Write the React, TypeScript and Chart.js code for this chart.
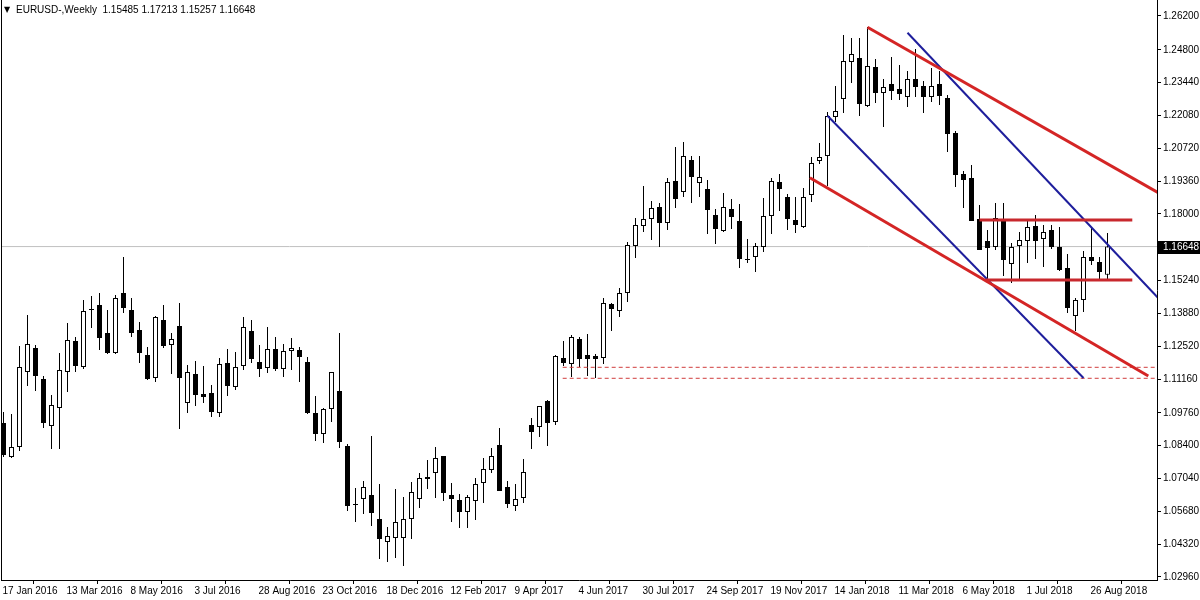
import React, { useEffect, useRef } from "react";
import { Chart, registerables } from "chart.js";

Chart.register(...registerables);

// Weekly EURUSD candles, index 0 = 17 Jan 2016
const opens = [
  1.0934, 1.07932, 1.08346, 1.11453, 1.12447, 1.11163, 1.09216, 1.09961, 1.11453, 1.12737,
  1.1166, 1.14062, 1.14228, 1.13068, 1.1224, 1.14725, 1.14021, 1.13192, 1.12157, 1.11204,
  1.13607, 1.12571, 1.13358, 1.10168, 1.1137, 1.10541, 1.10582, 1.09754, 1.11825, 1.10831,
  1.11701, 1.13151, 1.11867, 1.11618, 1.12405, 1.11577, 1.12322, 1.12364, 1.11867, 1.09754,
  1.08884, 1.0992, 1.10665, 1.08387, 1.05984, 1.06191, 1.06357, 1.05363, 1.0441, 1.04576,
  1.04576, 1.05363, 1.06191, 1.07103, 1.07269, 1.07973, 1.06357, 1.0615, 1.05653, 1.06109,
  1.06854, 1.07393, 1.08429, 1.06689, 1.05902, 1.06233, 1.09257, 1.09174, 1.10251, 1.09381,
  1.12033, 1.11784, 1.12819, 1.12157, 1.12115, 1.12033, 1.14269, 1.13979, 1.14725, 1.16672,
  1.17501, 1.17791, 1.18288, 1.17625, 1.19365, 1.18909, 1.20235, 1.19282, 1.19034, 1.17956,
  1.17294, 1.18205, 1.17708, 1.16134, 1.16217, 1.16631, 1.17915, 1.19323, 1.18702, 1.17749,
  1.17459, 1.18785, 1.20193, 1.20401, 1.22016, 1.22762, 1.24295, 1.2446, 1.22472, 1.24087,
  1.2301, 1.23383, 1.23176, 1.22845, 1.2359, 1.233, 1.22845, 1.23383, 1.22803, 1.21353,
  1.19655, 1.19489, 1.17791, 1.16879, 1.16631, 1.17708, 1.15927, 1.16672, 1.16879, 1.17501,
  1.16962, 1.17335, 1.16631, 1.15761, 1.13772, 1.14435, 1.16217, 1.1601, 1.15485,
];
const highs = [
  1.09796, 1.09713, 1.1253, 1.13814, 1.12571, 1.11287, 1.105, 1.1224, 1.13483, 1.12902,
  1.14435, 1.14601, 1.14725, 1.14021, 1.14642, 1.16217, 1.14518, 1.13524, 1.12488, 1.13772,
  1.14228, 1.13068, 1.14311, 1.11742, 1.11908, 1.11701, 1.10914, 1.12033, 1.12405, 1.12281,
  1.13731, 1.13607, 1.12571, 1.13317, 1.12902, 1.12612, 1.12861, 1.12488, 1.12074, 1.10458,
  1.09961, 1.11453, 1.13068, 1.0847, 1.06647, 1.06937, 1.08801, 1.06813, 1.05032, 1.06606,
  1.06274, 1.06896, 1.07269, 1.07807, 1.08346, 1.07973, 1.06854, 1.06399, 1.06357, 1.07061,
  1.0789, 1.08304, 1.09133, 1.06937, 1.06813, 1.07849, 1.09547, 1.10044, 1.10293, 1.12157,
  1.12737, 1.12986, 1.12902, 1.13027, 1.12198, 1.14518, 1.14311, 1.14932, 1.16838, 1.17832,
  1.19158, 1.18536, 1.18454, 1.19489, 1.20773, 1.20981, 1.20401, 1.20401, 1.19406, 1.18205,
  1.18868, 1.18619, 1.18412, 1.16962, 1.16796, 1.18661, 1.19489, 1.19655, 1.18826, 1.18702,
  1.19075, 1.20359, 1.20939, 1.22223, 1.233, 1.25413, 1.25289, 1.25289, 1.25745, 1.24419,
  1.2359, 1.24502, 1.2417, 1.23922, 1.24833, 1.23507, 1.24046, 1.23922, 1.22928, 1.21436,
  1.19779, 1.20028, 1.18371, 1.17335, 1.18454, 1.18454, 1.16796, 1.17252, 1.17708, 1.17956,
  1.17542, 1.17542, 1.17459, 1.16341, 1.14518, 1.16465, 1.17418, 1.16217, 1.17213,
];
const lows = [
  1.07932, 1.0789, 1.0818, 1.10873, 1.10665, 1.09133, 1.08263, 1.08263, 1.10624, 1.11453,
  1.11577, 1.13276, 1.12364, 1.12198, 1.12198, 1.13896, 1.12902, 1.11825, 1.11121, 1.11038,
  1.12447, 1.1137, 1.09091, 1.09754, 1.10044, 1.10168, 1.09589, 1.09589, 1.10458, 1.10707,
  1.11535, 1.11825, 1.11245, 1.11411, 1.11494, 1.11245, 1.11535, 1.11038, 1.09713, 1.08594,
  1.08511, 1.09381, 1.08304, 1.05694, 1.05239, 1.0557, 1.05073, 1.03706, 1.03582, 1.03747,
  1.03416, 1.04534, 1.05819, 1.06606, 1.06233, 1.06109, 1.05239, 1.0499, 1.0499, 1.05322,
  1.06026, 1.07269, 1.06523, 1.05819, 1.05694, 1.06026, 1.08263, 1.0876, 1.08387, 1.09257,
  1.11701, 1.11245, 1.1166, 1.11287, 1.11204, 1.11784, 1.13151, 1.13731, 1.14352, 1.16175,
  1.17252, 1.16921, 1.16631, 1.17335, 1.18246, 1.18702, 1.18454, 1.18702, 1.17169, 1.16755,
  1.17252, 1.17376, 1.15761, 1.15968, 1.15595, 1.16424, 1.17169, 1.18122, 1.17335, 1.17211,
  1.17418, 1.18495, 1.20069, 1.19158, 1.21809, 1.22182, 1.23425, 1.22058, 1.2243, 1.22596,
  1.21602, 1.2272, 1.2272, 1.2243, 1.22845, 1.22182, 1.22637, 1.22513, 1.20566, 1.19116,
  1.18246, 1.17708, 1.16507, 1.15305, 1.16507, 1.15429, 1.15139, 1.15305, 1.15968, 1.16134,
  1.15802, 1.16548, 1.15636, 1.13896, 1.13151, 1.13938, 1.15885, 1.15305, 1.15257,
];
const closes = [
  1.08014, 1.08346, 1.1166, 1.12612, 1.11287, 1.0934, 1.10086, 1.11535, 1.12778, 1.11701,
  1.13979, 1.14021, 1.12861, 1.1224, 1.14518, 1.14104, 1.13068, 1.1224, 1.11163, 1.13731,
  1.1253, 1.12819, 1.11204, 1.11453, 1.105, 1.10417, 1.09796, 1.11784, 1.10873, 1.1166,
  1.13317, 1.11991, 1.11577, 1.12405, 1.11577, 1.12322, 1.12447, 1.12074, 1.09754, 1.08884,
  1.0992, 1.11453, 1.08553, 1.05902, 1.05943, 1.06689, 1.05612, 1.04534, 1.04659, 1.05239,
  1.05363, 1.06481, 1.07061, 1.0702, 1.0789, 1.0644, 1.06191, 1.05653, 1.06274, 1.06813,
  1.07434, 1.07973, 1.06523, 1.05984, 1.06191, 1.0731, 1.08967, 1.10044, 1.0934, 1.12115,
  1.11825, 1.12902, 1.11991, 1.11991, 1.11991, 1.14311, 1.14062, 1.14725, 1.16714, 1.17542,
  1.17791, 1.18246, 1.17625, 1.19323, 1.18619, 1.20401, 1.19531, 1.19531, 1.18164, 1.17376,
  1.18288, 1.17874, 1.16134, 1.16092, 1.16672, 1.17915, 1.19365, 1.19034, 1.17791, 1.17542,
  1.18702, 1.20111, 1.20359, 1.22058, 1.22265, 1.24336, 1.24626, 1.22554, 1.24129, 1.2301,
  1.23259, 1.23093, 1.22969, 1.2359, 1.23259, 1.22845, 1.233, 1.22886, 1.21312, 1.19613,
  1.19406, 1.17708, 1.16507, 1.16589, 1.17832, 1.16092, 1.16631, 1.16921, 1.17459, 1.16879,
  1.17252, 1.16631, 1.15678, 1.14104, 1.14435, 1.16217, 1.16051, 1.15595, 1.16648,
];

// Bottom axis labels, one every 8 weeks starting at index 0
const dateLabels = [
  "17 Jan 2016", "13 Mar 2016", "8 May 2016", "3 Jul 2016", "28 Aug 2016", "23 Oct 2016",
  "18 Dec 2016", "12 Feb 2017", "9 Apr 2017", "4 Jun 2017", "30 Jul 2017", "24 Sep 2017",
  "19 Nov 2017", "14 Jan 2018", "11 Mar 2018", "6 May 2018", "1 Jul 2018", "26 Aug 2018",
];
const labelStep = 8;

const priceTicks = [
  1.262, 1.248, 1.2344, 1.2208, 1.2072, 1.1936, 1.18, 1.1524, 1.1388, 1.1252, 1.1116,
  1.0976, 1.084, 1.0704, 1.0568, 1.0432, 1.0296,
];

const symbolTitle = "EURUSD-,Weekly";
const lastBar = [1.15485, 1.17213, 1.15257, 1.16648];
const lastPrice = 1.16648;

// Drawn objects (week index, price)
const upperRedLine = [{ x: 108, y: 1.25732 }, { x: 145, y: 1.18758 }];
const lowerRedLine = [{ x: 100.8, y: 1.19502 }, { x: 143.1, y: 1.11287 }];
const upperBlueLine = [{ x: 113, y: 1.25508 }, { x: 145, y: 1.14282 }];
const lowerBlueLine = [{ x: 103, y: 1.2207 }, { x: 135, y: 1.11204 }];
const rangeTopLine = [{ x: 122, y: 1.17749 }, { x: 141.1, y: 1.17749 }];
const rangeBottomLine = [{ x: 122.8, y: 1.15264 }, { x: 141.1, y: 1.15264 }];
const supportA = [{ x: 69.9, y: 1.11647 }, { x: 146, y: 1.11647 }];
const supportB = [{ x: 69.9, y: 1.11192 }, { x: 146, y: 1.11192 }];

const FONT = "Liberation Sans";

export default function App() {
  const ref = useRef<HTMLCanvasElement | null>(null);

  useEffect(() => {
    if (!ref.current) return;

    const bodies = closes.map((c, i) => ({ x: i, y: [opens[i], c] }));
    const bodyColors = closes.map((c, i) => (c >= opens[i] ? "#ffffff" : "#000000"));
    const wicks = closes.map((_, i) => ({ x: i, y: [lows[i], highs[i]] }));

    const lineDs = (data: any[], color: string, width: number, dash: number[] = [], order = -1) => ({
      type: "line" as const,
      data,
      borderColor: color,
      borderWidth: width,
      borderDash: dash,
      pointRadius: 0,
      pointHoverRadius: 0,
      fill: false,
      tension: 0,
      order,
    });

    const overlay = {
      id: "overlay",
      afterDraw(chart: any) {
        const { ctx, chartArea } = chart;
        const yScale = chart.scales.y;
        ctx.save();
        ctx.strokeStyle = "#000";
        ctx.lineWidth = 1;
        ctx.beginPath();
        ctx.moveTo(chartArea.left + 0.5, chartArea.top);
        ctx.lineTo(chartArea.left + 0.5, chartArea.bottom);
        ctx.stroke();

        ctx.fillStyle = "#000";
        ctx.textBaseline = "middle";
        ctx.textAlign = "left";
        ctx.font = `8px "DejaVu Sans"`;
        ctx.fillText("▼", 4, 10);
        ctx.font = `10px "${FONT}"`;
        ctx.fillText(`${symbolTitle}  ${lastBar.map((v) => v.toFixed(5)).join(" ")}`, 16, 10);

        const py = yScale.getPixelForValue(lastPrice);
        ctx.fillStyle = "#000";
        ctx.fillRect(chartArea.right + 1, Math.round(py) - 6, 43, 13);
        ctx.fillStyle = "#fff";
        ctx.fillText(lastPrice.toFixed(5), chartArea.right + 6, Math.round(py) + 0.5);
        ctx.restore();
      },
    };

    const chart = new Chart(ref.current, {
      type: "bar",
      data: {
        datasets: [
          lineDs(upperRedLine, "#d42525", 3),
          lineDs(lowerRedLine, "#d42525", 3),
          lineDs(rangeTopLine, "#c8282d", 3),
          lineDs(rangeBottomLine, "#c8282d", 3),
          lineDs(upperBlueLine, "#1e1e9c", 2),
          lineDs(lowerBlueLine, "#1e1e9c", 2),
          lineDs(supportA, "#d03c3c", 1, [4, 3]),
          lineDs(supportB, "#d03c3c", 1, [4, 3]),
          {
            type: "bar" as const,
            data: bodies as any,
            backgroundColor: bodyColors,
            borderColor: "#000",
            borderWidth: 1,
            borderSkipped: false,
            barThickness: 5,
            minBarLength: 1,
            grouped: false,
            inflateAmount: 0,
            order: 0,
          } as any,
          {
            type: "bar" as const,
            data: wicks as any,
            backgroundColor: "#000",
            borderWidth: 0,
            barThickness: 1,
            grouped: false,
            inflateAmount: 0,
            order: 1,
          } as any,
          lineDs([{ x: -2, y: lastPrice }, { x: 146, y: lastPrice }], "#c0c0c0", 1, [], 2),
        ],
      },
      options: {
        responsive: false,
        animation: false,
        devicePixelRatio: 1,
        layout: { padding: { left: 1, top: 0, right: 0, bottom: 0 } },
        plugins: {
          legend: { display: false },
          tooltip: { enabled: false },
          title: { display: false },
        },
        events: [],
        scales: {
          x: {
            type: "linear",
            min: -0.3125,
            max: 144.1875,
            offset: false,
            bounds: "data",
            grid: {
              display: true,
              drawOnChartArea: false,
              drawTicks: true,
              tickLength: 4,
              color: "#000",
            },
            border: { display: true, color: "#000", width: 1 },
            ticks: {
              autoSkip: false,
              maxRotation: 0,
              minRotation: 0,
              align: "start",
              labelOffset: 1,
              padding: 1,
              color: "#000",
              font: { family: FONT, size: 10 },
              callback: (_v: any, i: number) => dateLabels[i] ?? "",
            },
            afterBuildTicks: (s: any) => {
              s.ticks = dateLabels.map((_, i) => ({ value: i * labelStep - 0.25 }));
            },
            afterFit: (s: any) => {
              s.height = 20;
              s.paddingLeft = 0;
              s.paddingRight = 0;
            },
          },
          y: {
            type: "linear",
            position: "right",
            min: 1.028357,
            max: 1.268628,
            bounds: "data",
            grid: {
              display: true,
              drawOnChartArea: false,
              drawTicks: true,
              tickLength: 4,
              color: "#000",
            },
            border: { display: true, color: "#000", width: 1 },
            ticks: {
              autoSkip: false,
              padding: 2,
              color: "#000",
              font: { family: FONT, size: 10 },
              callback: (v: any) => Number(v).toFixed(5),
            },
            afterBuildTicks: (s: any) => {
              s.ticks = priceTicks.map((v) => ({ value: v }));
            },
            afterFit: (s: any) => {
              s.width = 43;
              s.paddingTop = 0;
              s.paddingBottom = 0;
            },
          },
        },
      } as any,
      plugins: [overlay],
    });

    return () => chart.destroy();
  }, []);

  return (
    <div style={{ position: "fixed", left: 0, top: 0, width: 1200, height: 600, background: "#fff" }}>
      <canvas ref={ref} width={1200} height={600} style={{ display: "block", width: 1200, height: 600 }} />
    </div>
  );
}
